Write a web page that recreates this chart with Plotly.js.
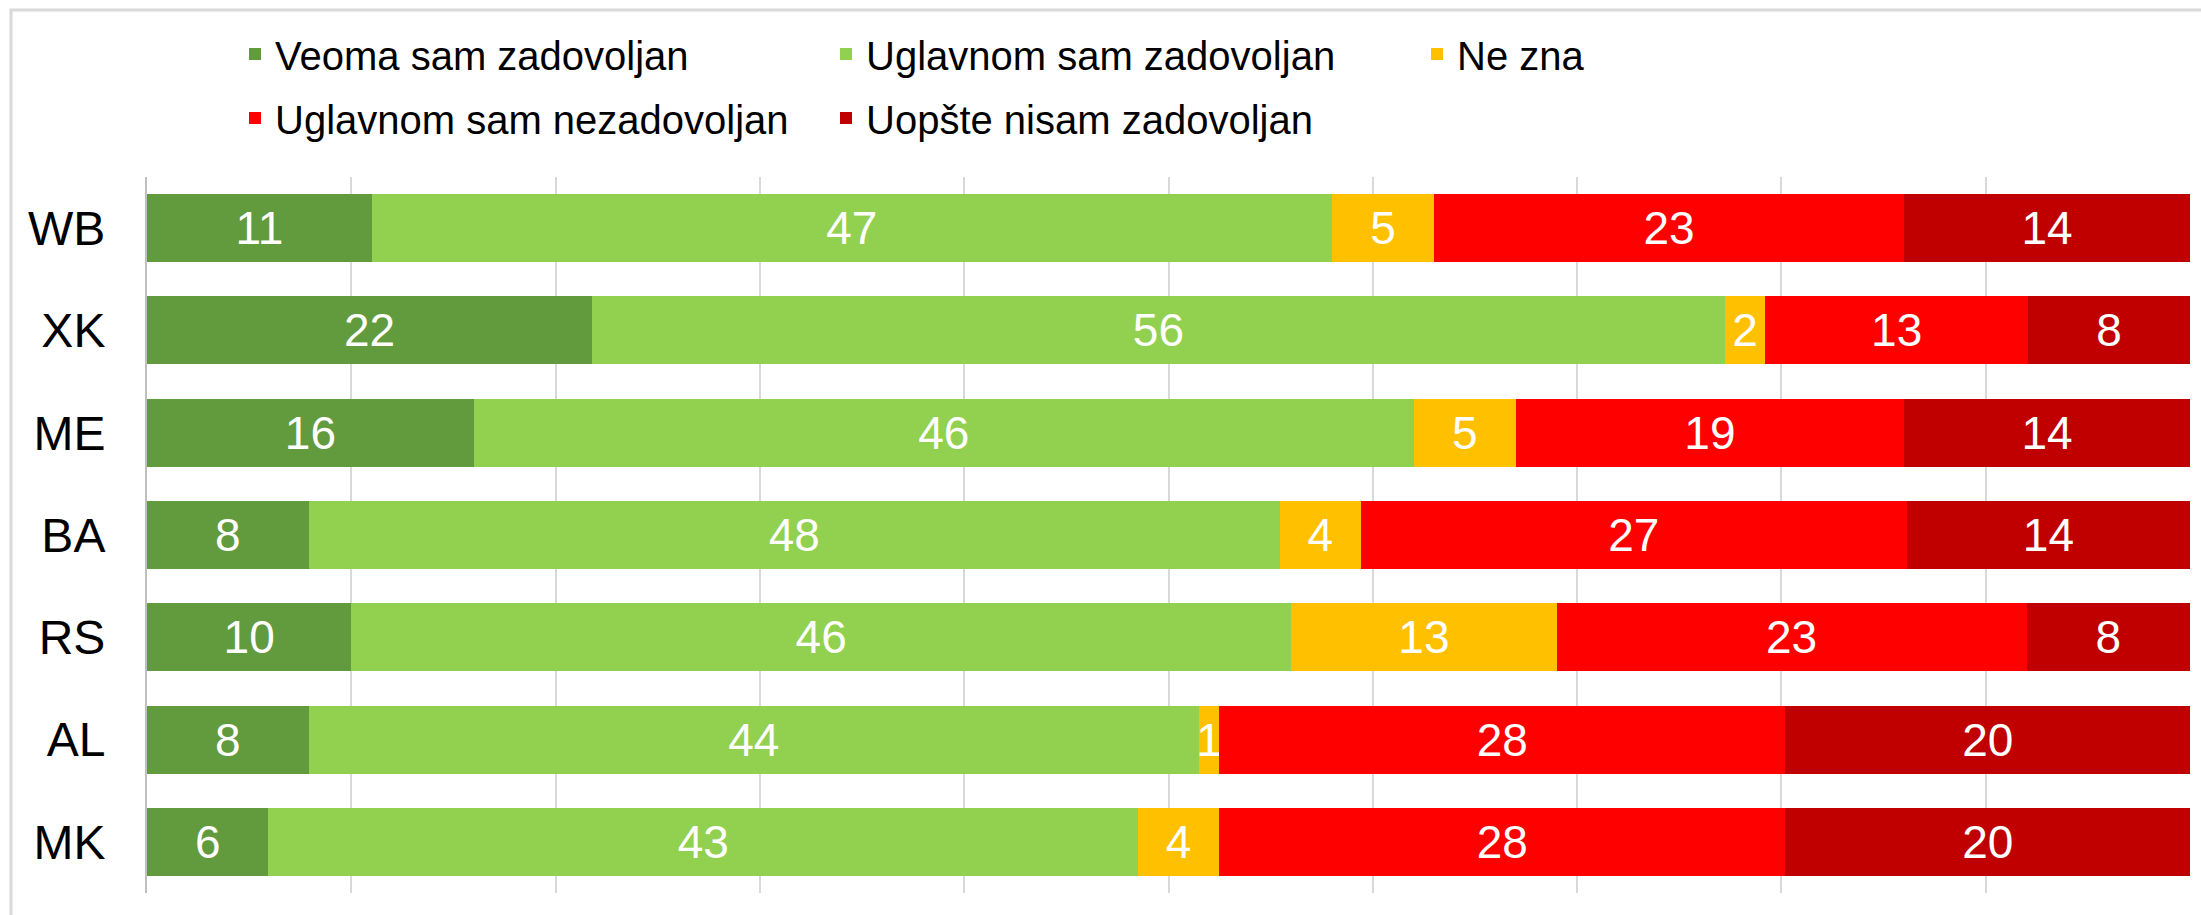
<!DOCTYPE html>
<html>
<head>
<meta charset="utf-8">
<script src="https://cdn.plot.ly/plotly-3.0.1.min.js"></script>
<style>
html,body{margin:0;padding:0;background:#fff;}
#chart{width:2201px;height:915px;}
</style>
</head>
<body>
<div id="chart"></div>
<script>
const categories = ["WB", "XK", "ME", "BA", "RS", "AL", "MK"];
const seriesNames = ["Veoma sam zadovoljan", "Uglavnom sam zadovoljan", "Ne zna", "Uglavnom sam nezadovoljan", "Uopšte nisam zadovoljan"];
const veomaZadovoljan = [11, 22, 16, 8, 10, 8, 6];
const uglavnomZadovoljan = [47, 56, 46, 48, 46, 44, 43];
const neZna = [5, 2, 5, 4, 13, 1, 4];
const uglavnomNezadovoljan = [23, 13, 19, 27, 23, 28, 28];
const uopsteNezadovoljan = [14, 8, 14, 14, 8, 20, 20];
const colors = ["#629A3E", "#92D050", "#FFC000", "#FF0000", "#C00000"];

const seriesValues = [veomaZadovoljan, uglavnomZadovoljan, neZna, uglavnomNezadovoljan, uopsteNezadovoljan];
const FONT = "Liberation Sans, Arial, sans-serif";

const traces = seriesValues.map((vals, i) => ({
  type: "bar",
  orientation: "h",
  name: seriesNames[i],
  y: categories,
  x: vals,
  text: vals.map(String),
  texttemplate: "%{text}",
  textposition: "inside",
  insidetextanchor: "middle",
  textangle: 0,
  constraintext: "none",
  insidetextfont: {family: FONT, size: 46, color: "#ffffff"},
  marker: {color: colors[i], line: {width: 0}},
  legend: i < 3 ? "legend" : "legend2",
  hoverinfo: "name+x"
}));

const L = 147, T = 177, W = 2043, H = 716;
const px2x = p => (p - L) / W;
const py2y = p => (T + H - p) / H;

const legendCommon = {
  orientation: "h",
  xanchor: "left",
  yanchor: "middle",
  font: {family: FONT, size: 40, color: "#000000"},
  entrywidth: 546,
  entrywidthmode: "pixels",
  bgcolor: "rgba(0,0,0,0)",
  traceorder: "normal"
};

const layout = {
  width: 2201,
  height: 915,
  margin: {l: L, r: 2201 - L - W, t: T, b: 915 - T - H, autoexpand: false},
  paper_bgcolor: "#ffffff",
  plot_bgcolor: "#ffffff",
  barmode: "stack",
  barnorm: "percent",
  bargap: 0.335,
  font: {family: FONT, color: "#000000"},
  showlegend: true,
  legend: Object.assign({}, legendCommon, {x: px2x(235), y: py2y(54)}),
  legend2: Object.assign({}, legendCommon, {x: px2x(235), y: py2y(118)}),
  xaxis: {
    range: [0, 100],
    dtick: 10,
    tick0: 0,
    showticklabels: false,
    ticks: "",
    showgrid: true,
    gridcolor: "#d9d9d9",
    gridwidth: 2,
    zeroline: false,
    showline: false,
    fixedrange: true
  },
  yaxis: {
    type: "category",
    autorange: "reversed",
    showgrid: false,
    zeroline: false,
    showline: true,
    linecolor: "#bfbfbf",
    linewidth: 2,
    ticks: "",
    ticklabelstandoff: 30,
    tickfont: {family: FONT, size: 48, color: "#000000"},
    fixedrange: true
  },
  shapes: [{
    type: "path",
    xref: "paper",
    yref: "paper",
    path: "M " + px2x(11) + " " + py2y(930) + " L " + px2x(11) + " " + py2y(10) + " L " + px2x(2230) + " " + py2y(10),
    line: {color: "#d9d9d9", width: 3},
    layer: "below"
  }]
};

Plotly.newPlot("chart", traces, layout, {displayModeBar: false, staticPlot: true});
</script>
</body>
</html>
